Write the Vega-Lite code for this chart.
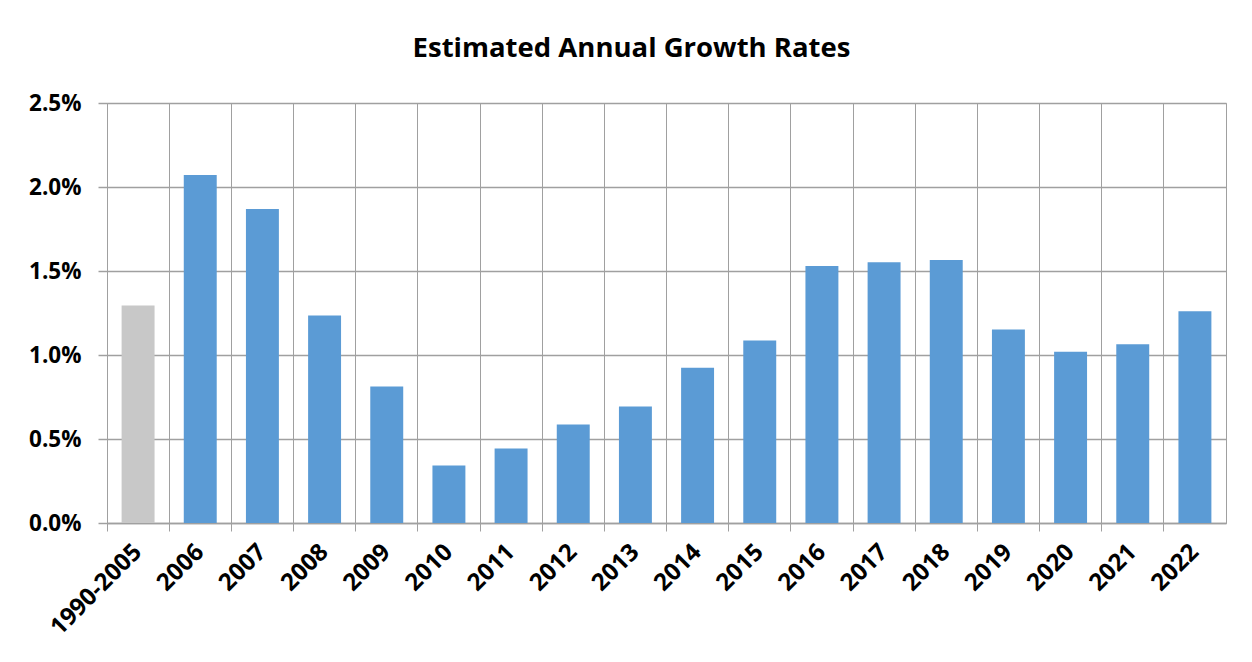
{
  "$schema": "https://vega.github.io/schema/vega-lite/v6.json",
  "width": 1119,
  "height": 420,
  "autosize": "none",
  "padding": {"left": 107, "top": 103, "right": 26, "bottom": 139},
  "background": "white",
  "title": {
    "text": "Estimated Annual Growth Rates",
    "font": "Open Sans",
    "fontSize": 27.5,
    "fontWeight": "bold",
    "color": "black",
    "anchor": "middle",
    "baseline": "alphabetic",
    "offset": 8,
    "dx": -35
  },
  "data": {
    "values": [
      {"period": "1990-2005", "rate": 0.01294, "kind": "hist"},
      {"period": "2006", "rate": 0.02071, "kind": "year"},
      {"period": "2007", "rate": 0.01869, "kind": "year"},
      {"period": "2008", "rate": 0.01235, "kind": "year"},
      {"period": "2009", "rate": 0.00813, "kind": "year"},
      {"period": "2010", "rate": 0.00343, "kind": "year"},
      {"period": "2011", "rate": 0.00444, "kind": "year"},
      {"period": "2012", "rate": 0.00587, "kind": "year"},
      {"period": "2013", "rate": 0.00694, "kind": "year"},
      {"period": "2014", "rate": 0.00924, "kind": "year"},
      {"period": "2015", "rate": 0.01086, "kind": "year"},
      {"period": "2016", "rate": 0.01530, "kind": "year"},
      {"period": "2017", "rate": 0.01552, "kind": "year"},
      {"period": "2018", "rate": 0.01566, "kind": "year"},
      {"period": "2019", "rate": 0.01152, "kind": "year"},
      {"period": "2020", "rate": 0.01019, "kind": "year"},
      {"period": "2021", "rate": 0.01064, "kind": "year"},
      {"period": "2022", "rate": 0.01260, "kind": "year"}
    ]
  },
  "mark": {"type": "bar", "width": {"band": 0.53}},
  "encoding": {
    "x": {
      "field": "period",
      "type": "nominal",
      "sort": null,
      "title": null,
      "scale": {"paddingInner": 0, "paddingOuter": 0},
      "axis": {
        "bandPosition": 0,
        "grid": true,
        "gridColor": "#a0a0a0",
        "gridWidth": 1,
        "gridOpacity": 1,
        "domainColor": "#a0a0a0",
        "domainWidth": 1.5,
        "tickColor": "#a0a0a0",
        "tickSize": 8,
        "tickWidth": 1,
        "labelAngle": -45,
        "labelAlign": "right",
        "labelBaseline": "middle",
        "labelFont": "Open Sans",
        "labelFontSize": 24,
        "labelFontWeight": "bold",
        "labelColor": "black",
        "labelPadding": 17,
        "labelOverlap": false,
        "labelBound": false,
        "labelFlush": false
      }
    },
    "y": {
      "field": "rate",
      "type": "quantitative",
      "title": null,
      "scale": {"domain": [0, 0.025], "nice": false},
      "axis": {
        "values": [0, 0.005, 0.01, 0.015, 0.02, 0.025],
        "format": ".1%",
        "grid": true,
        "gridColor": "#a0a0a0",
        "gridWidth": 1.5,
        "gridOpacity": 1,
        "domainColor": "#a0a0a0",
        "domainWidth": 1,
        "tickColor": "#a0a0a0",
        "tickSize": 9,
        "tickWidth": 1.5,
        "labelFont": "Open Sans",
        "labelFontSize": 22.5,
        "labelFontWeight": "bold",
        "labelColor": "black",
        "labelPadding": 17
      }
    },
    "color": {
      "field": "kind",
      "type": "nominal",
      "scale": {"domain": ["hist", "year"], "range": ["#c8c8c8", "#5b9bd5"]},
      "legend": null
    }
  },
  "config": {
    "view": {"stroke": "#a0a0a0", "strokeWidth": 1}
  }
}
